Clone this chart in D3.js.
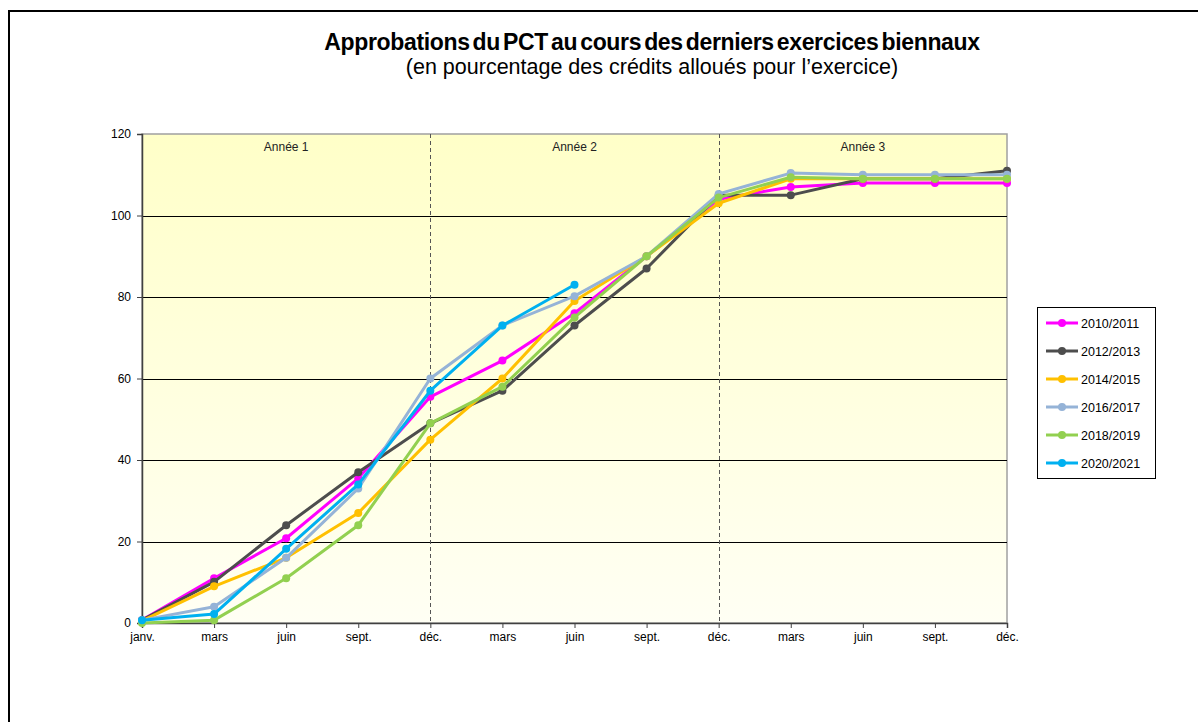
<!DOCTYPE html>
<html>
<head>
<meta charset="utf-8">
<script src="https://cdn.jsdelivr.net/npm/d3@7"></script>
<style>
    body { margin: 0; background: #fff; }
    text { font-family: "Liberation Sans", Arial, sans-serif; }
</style>
</head>
<body>
<script>
//execute script when window is loaded
window.onload = function(){

    //SVG dimension variables
    var w = 1198, h = 722;

    //month labels along the x axis
    var months = ["janv.", "mars", "juin", "sept.", "déc.", "mars", "juin", "sept.", "déc.", "mars", "juin", "sept.", "déc."];

    //year band labels
    var years = ["Année 1", "Année 2", "Année 3"];

    //y ticks
    var yTicks = [0, 20, 40, 60, 80, 100, 120];

    //series names and colours
    var seriesNames = ["2010/2011", "2012/2013", "2014/2015", "2016/2017", "2018/2019", "2020/2021"];
    var seriesColors = ["#FF00FF", "#4D4D4D", "#FFC000", "#95B3D7", "#92D050", "#00B0F0"];

    //series values (percent of allocated credits)
    var s2010 = [0.7, 11, 20.8, 35.5, 55.5, 64.4, 76, 90, 104, 107, 108, 108, 108];
    var s2012 = [0.7, 10.1, 24, 37, 49, 57, 73, 87, 105, 105, 109, 109, 111];
    var s2014 = [0.5, 9, 16, 27, 45, 60, 79, 90, 103, 109, 109, 109, 109];
    var s2016 = [0.7, 4, 16, 33, 60, 73, 80.2, 90, 105.3, 110.4, 110, 110, 110];
    var s2018 = [0, 0.7, 11, 24, 49, 58, 75, 90, 104.4, 109.4, 109, 109, 109];
    var s2020 = [0.7, 2.2, 18.2, 34, 57, 73, 83];

    var allSeries = [s2010, s2012, s2014, s2016, s2018, s2020];

    //create the SVG container
    var container = d3.select("body")
        .append("svg")
        .attr("width", w)
        .attr("height", h)
        .attr("class", "container");

    //outer frame
    container.append("rect")
        .attr("x", 9)
        .attr("y", 11)
        .attr("width", w + 20)
        .attr("height", h + 20)
        .style("fill", "#fff")
        .style("stroke", "#000")
        .style("stroke-width", 2);

    //plot area bounds
    var left = 142, right = 1007, top = 134, bottom = 623;

    //create x scale
    var x = d3.scaleLinear()
        .range([left, right])
        .domain([0, months.length - 1]);

    //create y scale
    var y = d3.scaleLinear()
        .range([bottom, top])
        .domain([0, 120]);

    //background gradient
    var grad = container.append("defs")
        .append("linearGradient")
        .attr("id", "bg")
        .attr("x1", 0).attr("y1", 0)
        .attr("x2", 0).attr("y2", 1);
    grad.append("stop").attr("offset", "0%").attr("stop-color", "#FFFFC8");
    grad.append("stop").attr("offset", "100%").attr("stop-color", "#FFFFF4");

    container.append("rect")
        .attr("x", left)
        .attr("y", top)
        .attr("width", right - left)
        .attr("height", bottom - top)
        .style("fill", "url(#bg)")
        .style("stroke", "#A0A0A0")
        .style("stroke-width", 1.5);

    //horizontal gridlines
    container.selectAll(".grid")
        .data(yTicks.filter(function(d){ return d > 0 && d < 120; }))
        .enter()
        .append("line")
        .attr("class", "grid")
        .attr("x1", left)
        .attr("x2", right)
        .attr("y1", function(d){ return Math.round(y(d)) + 0.5; })
        .attr("y2", function(d){ return Math.round(y(d)) + 0.5; })
        .style("stroke", "#000")
        .style("stroke-width", 1);

    //dashed year separators
    container.selectAll(".sep")
        .data([4, 8])
        .enter()
        .append("line")
        .attr("class", "sep")
        .attr("x1", function(d){ return Math.round(x(d)) + 0.5; })
        .attr("x2", function(d){ return Math.round(x(d)) + 0.5; })
        .attr("y1", top)
        .attr("y2", bottom)
        .style("stroke", "#555")
        .style("stroke-dasharray", "4,3")
        .style("stroke-width", 1);

    //year labels
    container.selectAll(".year")
        .data(years)
        .enter()
        .append("text")
        .attr("class", "year")
        .attr("text-anchor", "middle")
        .attr("x", function(d, i){ return x(i * 4 + 2); })
        .attr("y", top + 17)
        .style("font-size", "12px")
        .style("fill", "#222")
        .text(function(d){ return d; });

    //create y axis
    var yAxis = d3.axisLeft(y)
        .tickValues(yTicks)
        .tickSize(5)
        .tickPadding(6);

    var yG = container.append("g")
        .attr("class", "axis")
        .attr("transform", "translate(" + left + ",0)")
        .call(yAxis);
    yG.select(".domain").style("stroke", "#404040").style("stroke-width", 1.5);
    yG.selectAll("line").style("stroke", "#404040");
    yG.selectAll("text").style("font-size", "12px").style("fill", "#000")
        .style("font-family", "'Liberation Sans', Arial, sans-serif");

    //create x axis
    var xAxis = d3.axisBottom(x)
        .tickValues(d3.range(months.length))
        .tickSize(5)
        .tickPadding(4)
        .tickFormat(function(d){ return months[d]; });

    var xG = container.append("g")
        .attr("class", "axis")
        .attr("transform", "translate(0," + bottom + ")")
        .call(xAxis);
    xG.select(".domain").style("stroke", "#404040").style("stroke-width", 1.5);
    xG.selectAll("line").style("stroke", "#404040");
    xG.selectAll("text").style("font-size", "12px").style("fill", "#000")
        .style("font-family", "'Liberation Sans Narrow', 'Liberation Sans', Arial, sans-serif");

    //line generator
    var line = d3.line()
        .x(function(d, i){ return x(i); })
        .y(function(d){ return y(d); });

    //draw series
    var groups = container.selectAll(".series")
        .data(allSeries)
        .enter()
        .append("g")
        .attr("class", "series");

    groups.append("path")
        .attr("d", function(d){ return line(d); })
        .style("fill", "none")
        .style("stroke", function(d, i){ return seriesColors[i]; })
        .style("stroke-width", 3)
        .style("stroke-linejoin", "round");

    groups.each(function(d, si){
        d3.select(this).selectAll("circle")
            .data(d)
            .enter()
            .append("circle")
            .attr("cx", function(v, i){ return x(i); })
            .attr("cy", function(v){ return y(v); })
            .attr("r", 4)
            .style("fill", seriesColors[si]);
    });

    //legend
    var legend = container.append("g")
        .attr("class", "legend");

    legend.append("rect")
        .attr("x", 1037.5)
        .attr("y", 307.5)
        .attr("width", 118)
        .attr("height", 171)
        .style("fill", "#fff")
        .style("stroke", "#000")
        .style("stroke-width", 1);

    var items = legend.selectAll(".item")
        .data(seriesNames)
        .enter()
        .append("g")
        .attr("class", "item")
        .attr("transform", function(d, i){ return "translate(1046," + (323 + i * 28) + ")"; });

    items.append("line")
        .attr("x1", 0)
        .attr("x2", 32)
        .style("stroke", function(d, i){ return seriesColors[i]; })
        .style("stroke-width", 3);

    items.append("circle")
        .attr("cx", 16)
        .attr("r", 4)
        .style("fill", function(d, i){ return seriesColors[i]; });

    items.append("text")
        .attr("x", 35)
        .attr("y", 4.5)
        .style("font-size", "12.5px")
        .style("fill", "#000")
        .text(function(d){ return d; });

    //create chart title
    container.append("text")
        .attr("class", "title")
        .attr("text-anchor", "middle")
        .attr("x", 652)
        .attr("y", 50)
        .style("font-size", "23px")
        .style("font-weight", "bold")
        .style("letter-spacing", "-0.35px")
        .style("word-spacing", "-3px")
        .text("Approbations du PCT au cours des derniers exercices biennaux");

    container.append("text")
        .attr("class", "subtitle")
        .attr("text-anchor", "middle")
        .attr("x", 652)
        .attr("y", 74)
        .style("font-size", "21.5px")
        .text("(en pourcentage des crédits alloués pour l’exercice)");

};
</script>
</body>
</html>
